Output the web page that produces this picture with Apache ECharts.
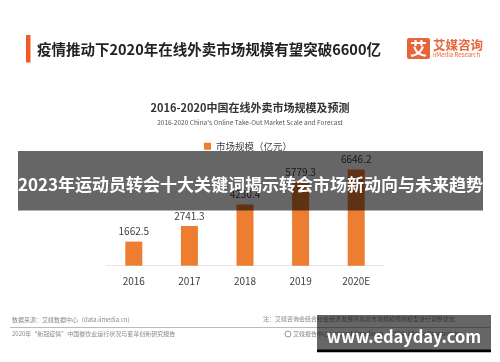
<!DOCTYPE html>
<html><head><meta charset="utf-8">
<script src="https://cdn.jsdelivr.net/npm/echarts@6/dist/echarts.min.js"></script>
<style>html,body{margin:0;padding:0;background:#fff}#c{width:500px;height:362px}</style>
</head><body><div id="c"></div>
<script>
var categories = ['2016', '2017', '2018', '2019', '2020E'];
var marketScale = [1662.5, 2741.3, 4230.4, 5779.3, 6646.2];
var seriesName = '市场规模（亿元）';
var headline = '疫情推动下2020年在线外卖市场规模有望突破6600亿';
var chartTitle = '2016-2020中国在线外卖市场规模及预测';
var chartSubtitle = "2016-2020 China's Online Take-Out Market Scale and Forecast";
var overlayText = '2023年运动员转会十大关键词揭示转会市场新动向与未来趋势';
var watermark = 'www.edayday.com';
var sourceText = '数据来源：艾媒数据中心（data.iimedia.cn)';
var noteText = '注：艾媒咨询会结合社会经济发展环境对市场规模预测模型进行调整优化';
var reportText = '2020年“新冠疫情”中国餐饮业运行状况与变革创新研究报告';
var reportCenter = '艾媒报告中心：report.iimedia.cn  ©2020 iiMedia Research Inc';

var FONT = '"Noto Sans CJK SC", "Noto Sans", sans-serif';
var chart = echarts.init(document.getElementById('c'), null, {renderer: 'canvas'});
chart.setOption({
  animation: false,
  backgroundColor: '#ffffff',
  textStyle: {fontFamily: FONT},
  title: [
    {text: chartTitle, left: 'center', top: 97, textStyle: {fontSize: 11, fontWeight: 'bold', color: '#333', fontFamily: FONT},
     subtext: chartSubtitle, subtextStyle: {fontSize: 6.5, color: '#555', fontFamily: FONT}, itemGap: 6}
  ],
  legend: {
    data: [seriesName], top: 136.5, left: 199, icon: 'rect', itemWidth: 7, itemHeight: 7, itemGap: 4,
    textStyle: {fontSize: 9.5, color: '#404040', fontFamily: FONT}
  },
  grid: {left: 106, right: 116, top: 149.8, bottom: 96.3, containLabel: false},
  xAxis: {
    type: 'category', data: categories,
    axisLine: {lineStyle: {color: '#e6e6e6', width: 1}},
    axisTick: {show: false},
    axisLabel: {fontSize: 10, color: '#404040', margin: 11, fontFamily: FONT}
  },
  yAxis: {type: 'value', min: 0, max: 8000, show: false, splitLine: {show: false}},
  series: [{
    name: seriesName, type: 'bar', data: marketScale, barWidth: 17,
    itemStyle: {color: '#ED7D31'},
    label: {show: true, position: 'top', fontSize: 10, color: '#404040', distance: 5, fontFamily: FONT}
  }],
  graphic: [
    {type: 'rect', shape: {x: 26, y: 35, width: 4.5, height: 27.5}, style: {fill: '#F15A24'}},
    {type: 'text', x: 37, y: 49, style: {text: headline, font: 'bold 14.5px ' + FONT, fill: '#222', textVerticalAlign: 'middle'}},
    {type: 'rect', shape: {x: 407, y: 38, width: 23, height: 21, r: 2}, style: {fill: '#E8643A'}},
    {type: 'text', x: 418.5, y: 48.5, style: {text: '艾', font: 'bold 17px ' + FONT, fill: '#fff', textAlign: 'center', textVerticalAlign: 'middle'}},
    {type: 'text', x: 433, y: 45, style: {text: '艾媒咨询', font: 'bold 12.5px ' + FONT, fill: '#E8643A', textVerticalAlign: 'middle'}},
    {type: 'text', x: 433, y: 54.5, style: {text: 'iiMedia Research', font: '6px ' + FONT, fill: '#E8643A', textVerticalAlign: 'middle'}},
    {type: 'text', x: 12, y: 320, style: {text: sourceText, font: '6px ' + FONT, fill: '#888', textVerticalAlign: 'middle'}},
    {type: 'text', x: 263, y: 319, style: {text: noteText, font: '6px ' + FONT, fill: '#888', textVerticalAlign: 'middle'}},
    {type: 'line', shape: {x1: 10, y1: 327.5, x2: 490, y2: 327.5}, style: {stroke: '#bbbbbb', lineWidth: 1}},
    {type: 'text', x: 12, y: 334, style: {text: reportText, font: '6px ' + FONT, fill: '#888', textVerticalAlign: 'middle'}},
    {type: 'circle', shape: {cx: 288, cy: 334, r: 3}, style: {fill: 'none', stroke: '#999', lineWidth: 1}},
    {type: 'text', x: 293, y: 334, style: {text: reportCenter, font: '6px ' + FONT, fill: '#888', textVerticalAlign: 'middle'}},
    {type: 'rect', z: 100, shape: {x: 18, y: 151, width: 465, height: 59.5}, style: {fill: 'rgba(0,0,0,0.6)'}},
    {type: 'text', z: 101, x: 250.5, y: 185, style: {text: overlayText, font: 'bold 17px ' + FONT, fill: '#fff', textAlign: 'center', textVerticalAlign: 'middle'}},
    {type: 'rect', z: 100, shape: {x: 317, y: 315, width: 174, height: 34.3}, style: {fill: 'rgba(0,0,0,0.6)'}},
    {type: 'rect', z: 100, shape: {x: 317, y: 349.3, width: 174, height: 3}, style: {fill: '#000'}},
    {type: 'text', z: 101, x: 404, y: 336.5, style: {text: watermark, font: 'bold 16.5px ' + FONT, fill: '#fff', textAlign: 'center', textVerticalAlign: 'middle'}}
  ]
});
</script></body></html>
